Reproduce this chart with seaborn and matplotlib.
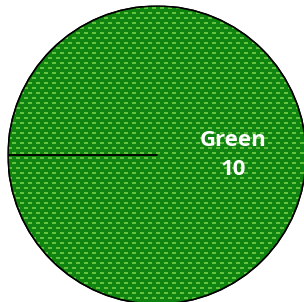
import numpy as np
import matplotlib
matplotlib.use('Agg')
import matplotlib.pyplot as plt
import seaborn as sns

# Chart data
categories = ['Green']
values = [10]

sns.set_style('white')
plt.rcParams['font.family'] = ['Open Sans', 'DejaVu Sans']

fig = plt.figure(figsize=(3.04, 3.02), dpi=100)
ax = fig.add_axes([8 / 304, -2 / 302, 298 / 304, 298 / 302])

start = 180
wedges, texts = ax.pie(
    values,
    labels=[f'{c}\n{v}' for c, v in zip(categories, values)],
    colors=['#108410'],
    startangle=start,
    radius=1,
    labeldistance=0.51,
    wedgeprops=dict(edgecolor='black', linewidth=1),
    textprops=dict(color='white', fontweight='bold', fontsize=16,
                   ha='center', va='center', linespacing=1.45),
)
ax.set_xlim(-1, 1)
ax.set_ylim(-1, 1)
ax.set_aspect('equal')

# brick-like dash pattern clipped to the slice
n = 298
pat = np.zeros((n, n, 3))
dark = np.array([0x10, 0x84, 0x10]) / 255
light = np.array([0x62, 0xc4, 0x3e]) / 255
pat[:] = dark
for y in range(n):
    row = y % 10
    if row in (1, 2):
        off = 0
    elif row in (6, 7):
        off = 4
    else:
        continue
    for x in range(n):
        if (x + off) % 8 < 4:
            pat[y, x] = light
im = ax.imshow(pat, extent=(-1, 1, -1, 1), interpolation='nearest', zorder=1.5)
im.set_clip_path(wedges[0])

# slice boundary at the start angle
t = np.deg2rad(start)
ax.plot([0, np.cos(t)], [0, np.sin(t)], color='black', linewidth=1.3, zorder=2.5)
wedges[0].set_zorder(1)
outline = plt.Circle((0, 0), 1, fill=False, edgecolor='black', linewidth=1.2, zorder=2.5)
ax.add_patch(outline)
for tx in texts:
    tx.set_zorder(3)
ax.axis('off')

fig.savefig('out.png', dpi=100)
